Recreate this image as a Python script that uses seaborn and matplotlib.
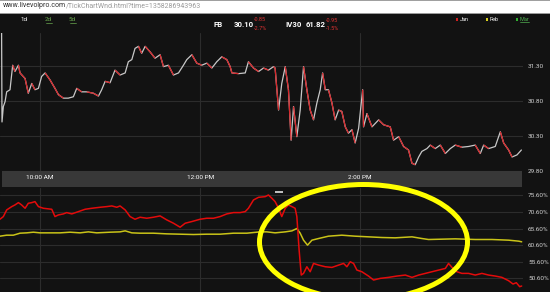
import numpy as np
import matplotlib
matplotlib.use("Agg")
import matplotlib.pyplot as plt
import seaborn as sns
from matplotlib.collections import LineCollection
from matplotlib.patches import Ellipse, Rectangle

# ---------------- data ----------------
# price (FB) : minutes since 9:30 open, price
price_min = [1.2, 1.5, 2.5, 3.8, 5.0, 7.5, 9.5, 11.2, 13.8, 15.0, 18.8, 21.2, 23.8, 26.2, 28.8,
             31.2, 33.8, 37.5, 41.2, 43.8, 47.5, 51.2, 55.0, 57.5, 61.2, 65.0, 70.0, 73.8, 76.2,
             78.8, 82.5, 86.2, 90.0, 93.8, 96.2, 98.8, 101.2, 103.8, 106.2, 108.8, 112.5, 116.2,
             120.0, 122.5, 126.2, 130.0, 133.8, 137.5, 140.0, 143.8, 147.5, 151.2, 155.0, 158.8,
             162.5, 166.2, 170.0, 172.5, 173.8, 178.8, 183.8, 186.2, 190.0, 193.8, 197.5, 201.2,
             205.0,
             206.2, 208.8, 211.2, 213.8, 216.2, 218.2, 220.0, 222.5, 225.0, 227.5, 230.0, 232.5,
             235.0, 237.5, 240.0, 241.8, 243.8, 246.2, 248.8, 251.2, 253.8, 256.2, 258.8, 261.2,
             263.8, 266.2, 268.8, 271.8, 272.5, 275.0, 278.8, 283.8, 287.5, 292.5, 295.0, 298.8,
             302.5, 306.2, 308.8, 311.2, 313.8, 316.2, 320.0, 322.5, 326.2, 330.0, 333.8, 337.5,
             341.2, 346.2, 351.2, 356.2, 360.0, 362.5, 366.2, 371.2, 375.0, 377.5, 381.2, 383.8,
             387.5, 390.8]
price_val = [31.77, 30.50, 30.72, 30.79, 30.93, 30.96, 31.31, 31.22, 31.31, 31.20, 31.12, 30.91,
             31.05, 30.96, 30.98, 31.15, 31.20, 31.10, 30.98, 30.89, 30.84, 30.84, 30.86, 30.98,
             30.93, 30.93, 30.91, 30.87, 30.96, 31.08, 31.06, 31.24, 31.17, 31.20, 31.36, 31.39,
             31.55, 31.58, 31.48, 31.58, 31.50, 31.41, 31.46, 31.29, 31.31, 31.17, 31.20, 31.31,
             31.39, 31.46, 31.34, 31.31, 31.34, 31.27, 31.36, 31.43, 31.39, 31.29, 31.20, 31.19,
             31.20, 31.36, 31.27, 31.22, 31.27, 31.24, 31.29,
             31.27, 30.67, 31.05, 31.29, 30.96, 30.24, 30.72, 30.29, 30.67, 31.29, 30.96, 30.67,
             30.53, 30.77, 30.96, 31.20, 30.96, 30.96, 30.77, 30.53, 30.67, 30.65, 30.43, 30.34,
             30.39, 30.20, 30.41, 30.96, 30.43, 30.62, 30.43, 30.53, 30.46, 30.43, 30.24, 30.29,
             30.15, 30.10, 29.91, 29.89, 30.00, 30.08, 30.12, 30.17, 30.12, 30.17, 30.05, 30.12,
             30.17, 30.14, 30.15, 30.17, 30.05, 30.17, 30.12, 30.15, 30.36, 30.20, 30.10, 30.00,
             30.03, 30.10]

# implied volatility, Jan expiry (red)
jan_min = [0, 2.5, 5, 8.8, 11.2, 13.8, 16.2, 18.8, 21.2, 23.8, 26.2, 28.8, 32.5, 38.8, 41.2,
           43.8, 47.5, 50, 53.8, 58.8, 63.8, 68.8, 75, 80, 83.8, 87.5, 90, 93.8, 97.5, 101.2,
           105, 110, 115, 120, 125, 130, 135, 138.8, 143.8, 150, 155, 160, 165, 170, 175, 180,
           183.8, 186.2, 190, 193.8, 198.8, 201.2, 203.8,
           206.2, 208.8, 211.2, 213.8, 216.2, 218.8, 221.2, 222.5, 224.2, 225.8, 227.5, 230,
           232.5, 235, 238.8, 243.8, 248.8, 253.8, 257.5, 260, 262.5, 265, 267.5, 271.2, 276.2,
           280, 285, 291.2, 297.5, 303.8, 308.8, 313.8, 318.8, 323.8, 328.8, 333.8, 336.2, 338.8,
           342.5, 346.2, 351.2, 356.2, 361.2, 366.2, 371.2, 376.2, 381.2, 384.5, 387, 389.5, 391]
jan_iv = [68.4, 69.2, 71.2, 72.2, 72.7, 73.4, 72.7, 71.7, 73.2, 73.4, 73.7, 72.2, 71.7, 71.4,
          69.2, 69.7, 70.0, 70.4, 70.0, 70.7, 71.4, 71.7, 72.0, 72.2, 72.4, 72.0, 72.4, 71.2,
          69.2, 68.4, 69.0, 68.7, 69.0, 69.4, 68.2, 67.2, 66.0, 67.2, 67.7, 68.4, 68.7, 68.7,
          69.2, 70.0, 70.4, 70.4, 70.7, 71.7, 74.2, 75.0, 75.2, 75.7, 74.7,
          73.7, 71.7, 69.2, 71.7, 72.7, 72.2, 71.7, 69.2, 59.1, 51.6, 52.1, 54.1, 52.6, 55.1,
          54.6, 54.1, 53.9, 54.6, 55.1, 54.1, 55.6, 55.1, 53.1, 52.6, 51.3, 50.1, 50.6, 50.9,
          51.3, 51.6, 50.9, 51.6, 52.1, 52.6, 53.1, 53.6, 55.1, 53.9, 52.6, 52.1, 52.1, 51.6,
          52.1, 51.6, 51.3, 50.9, 49.9, 48.9, 49.3, 48.1, 48.3]

# implied volatility, Feb expiry (yellow)
feb_min = [0, 5, 10, 15, 20, 25, 30, 37.5, 45, 52.5, 60, 66.2, 72.5, 82.5, 90, 93.8, 98.8, 105,
           115, 125, 135, 145, 155, 165, 175, 185, 195, 200,
           206.2, 213.8, 218.8, 222.5, 225, 227.5, 230.5, 233.8, 238.8, 246.2, 256.2, 266.2,
           276.2, 286.2, 296.2, 308.8, 316.2, 321.2, 331.2, 341.2, 356.2, 368.8, 381.2, 388.8, 391]
feb_iv = [63.3, 63.6, 63.6, 64.2, 64.3, 64.5, 64.3, 64.3, 64.3, 64.5, 64.3, 64.6, 64.3, 64.5,
          64.6, 64.9, 64.3, 64.2, 64.2, 64.0, 63.9, 63.8, 63.9, 63.9, 64.2, 64.2, 64.6, 64.6,
          64.3, 64.6, 64.9, 65.6, 64.2, 62.1, 60.6, 62.1, 62.6, 63.3, 63.6, 63.3, 63.1, 62.9,
          62.8, 63.1, 62.6, 62.3, 62.4, 62.5, 62.3, 62.3, 62.1, 61.8, 61.6]

time_ticks = [30, 150, 270]
time_labels = ["10:00 AM", "12:00 PM", "2:00 PM"]
price_ticks = [29.80, 30.30, 30.80, 31.30]
iv_ticks = [50.6, 55.6, 60.6, 65.6, 70.6, 75.6]

# ---------------- style ----------------
BG = "#121212"
GRID = "#2c2c2c"
RED = "#d8262a"
GREY = "#c8c8c8"
sns.set_theme(style="dark")
plt.rcParams["font.family"] = ["Roboto", "DejaVu Sans"]

W, H = 550, 292
fig = plt.figure(figsize=(W / 100, H / 100), dpi=100, facecolor=BG)


def rect(x0, y0, x1, y1):
    return [x0 / W, 1 - y1 / H, (x1 - x0) / W, (y1 - y0) / H]


def style_axes(ax):
    ax.set_facecolor(BG)
    for s in ax.spines.values():
        s.set_visible(False)
    ax.grid(True, color=GRID, lw=0.8)
    ax.yaxis.tick_right()
    ax.tick_params(axis="both", length=0, labelsize=4.6, colors="#d0d0d0")
    ax.tick_params(axis="y", pad=3.6)
    ax.set_xlabel("")
    ax.set_ylabel("")


# time band behind tick labels
fig.add_artist(Rectangle((2 / W, 1 - 187 / H), 520 / W, 16 / H, transform=fig.transFigure,
                         facecolor="#383838", edgecolor="none", zorder=-1))

# ---------------- price panel ----------------
ax_p = fig.add_axes(rect(0, 33, 523, 171))
t = np.array(price_min)
p = np.array(price_val)
sns.lineplot(x=t, y=p, ax=ax_p, color=GREY, lw=0.9, estimator=None, sort=False)
pts = np.column_stack([t, p])
segs = np.stack([pts[:-1], pts[1:]], axis=1)
down = p[1:] < p[:-1]
down[0] = False
ax_p.add_collection(LineCollection(segs[down], colors=RED, linewidths=0.9, zorder=3))
ax_p.set_xlim(0, 392)
ax_p.set_ylim(29.80, 31.77)
style_axes(ax_p)
ax_p.set_xticks(time_ticks, time_labels)
ax_p.set_yticks(price_ticks, [f"{v:.2f}" for v in price_ticks])
ax_p.tick_params(axis="x", pad=3.0, labelcolor="white", labelsize=4.6)

# ---------------- IV panel ----------------
ax_iv = fig.add_axes(rect(0, 188, 523, 292))
sns.lineplot(x=feb_min, y=feb_iv, ax=ax_iv, color="#c9c318", lw=1.1, estimator=None)
sns.lineplot(x=jan_min, y=jan_iv, ax=ax_iv, color="#e30b0b", lw=1.1, estimator=None)
ax_iv.set_xlim(0, 392)
ax_iv.set_ylim(46.5, 77.8)
style_axes(ax_iv)
ax_iv.set_xticks(time_ticks, [])
ax_iv.set_yticks(iv_ticks, [f"{v:.2f}%" for v in iv_ticks])

# ---------------- overlay (header, annotation) ----------------
ov = fig.add_axes([0, 0, 1, 1], facecolor="none")
ov.set_xlim(0, W)
ov.set_ylim(H, 0)
ov.axis("off")
ov.add_patch(Rectangle((0, 0), W, 13, facecolor="white", edgecolor="none"))
ov.add_patch(Rectangle((0, 0), W, 0.8, facecolor="#a0a0a0", edgecolor="none"))
ov.add_patch(Rectangle((0, 12.6), W, 1.0, facecolor="#9a9a9a", edgecolor="none"))
u1 = ov.text(3, 9, "www.livevolpro.com", fontsize=5, color="#303030", va="bottom", ha="left")
ov.annotate("/TickChartWnd.html?time=1358286943963", xy=(1, 0), xycoords=u1,
            fontsize=5, color="#9a9a9a", va="bottom", ha="left")

GREEN = "#6aa84f"
ov.text(24, 19.5, "1d", fontsize=4.5, color="white", ha="center", va="center")
ov.text(48.5, 19.5, "2d", fontsize=4.5, color=GREEN, ha="center", va="center")
ov.text(72.5, 19.5, "5d", fontsize=4.5, color=GREEN, ha="center", va="center")
for cx in (48.5, 72.5):
    ov.plot([cx - 3, cx + 3], [22.8, 22.8], color=GREEN, lw=0.5)

ov.text(213, 24.5, "FB", fontsize=5.6, color="white", fontweight="bold", va="center")
ov.text(234, 24.5, "30.10", fontsize=5.6, color="white", fontweight="bold", va="center")
ov.text(254, 19.8, "-0.85", fontsize=4.0, color="#e03232", va="center")
ov.text(254, 28.3, "-2.7%", fontsize=4.0, color="#e03232", va="center")
ov.text(285, 24.5, "IV30", fontsize=5.6, color="white", fontweight="bold", va="center")
ov.text(306, 24.5, "61.82", fontsize=5.6, color="white", fontweight="bold", va="center")
ov.text(326, 20.5, "-0.95", fontsize=4.0, color="#e03232", va="center")
ov.text(326, 28.3, "-1.5%", fontsize=4.0, color="#e03232", va="center")

for sx, col, lab, tcol in [(457, "#d02020", "Jan", "white"),
                           (487, "#d8d020", "Feb", "white"),
                           (517, "#30b030", "Mar", "#50b050")]:
    ov.add_patch(Rectangle((sx - 1.3, 18), 2.6, 2.6, facecolor=col, edgecolor="none"))
    ov.text(sx + 3, 19.3, lab, fontsize=4.0, color=tcol, va="center")
ov.plot([520, 529], [22.3, 22.3], color="#50b050", lw=0.5)

# splitter handle
ov.add_patch(Rectangle((275, 191), 8, 2, facecolor="#bdbdbd", edgecolor="none"))

# highlight ellipse
ov.add_patch(Ellipse((363.5, 242), 208, 115, fill=False, edgecolor="#ffff00", lw=3.6))

fig.savefig("out.png", dpi=100, facecolor=BG)
